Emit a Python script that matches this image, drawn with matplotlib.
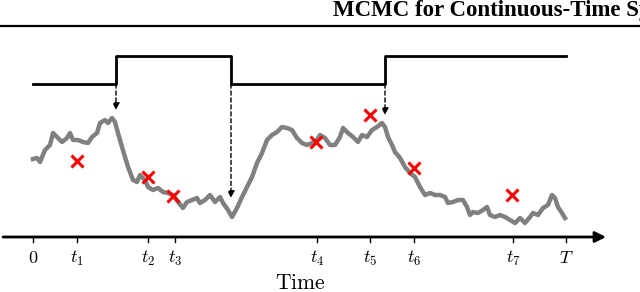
import matplotlib.pyplot as plt

plt.rcParams['mathtext.fontset'] = 'cm'

# sample path (time, value above the time axis)
path_t = [0, 4, 7, 12, 17, 20, 25, 29, 34, 37, 40, 45, 50, 55, 59, 64, 67, 72, 75, 79,
          82, 85, 89, 92, 95, 100, 104, 107, 112, 115, 120, 125, 130, 135, 140, 145, 150,
          154, 159, 164, 167, 172, 177, 182, 187, 190, 195, 199, 204, 209, 214, 219, 224,
          229, 234, 239, 244, 249, 254, 259, 264, 269, 274, 279, 284, 287, 292, 297, 302,
          307, 310, 315, 320, 325, 329, 334, 339, 344, 349, 352, 355, 359, 362, 367, 372,
          377, 382, 387, 392, 397, 402, 407, 412, 415, 420, 425, 430, 434, 437, 440, 445,
          450, 454, 457, 462, 467, 472, 477, 482, 487, 492, 497, 500, 505, 510, 515, 519,
          522, 525, 529, 532]
path_v = [78, 79, 75, 87, 92, 104, 99, 95, 99, 104, 97, 97, 95, 94, 100, 104, 114, 117, 114, 119,
          115, 104, 90, 80, 70, 57, 55, 62, 57, 50, 47, 49, 45, 44, 42, 35, 29,
          35, 37, 39, 34, 37, 42, 35, 40, 34, 27, 20, 29, 40, 50, 60, 74,
          84, 97, 102, 105, 110, 109, 107, 99, 94, 92, 94, 97, 102, 99, 92, 92,
          100, 109, 104, 100, 95, 102, 100, 107, 110, 114, 110, 100, 92, 85, 79, 70,
          64, 60, 50, 42, 44, 42, 42, 40, 34, 35, 37, 37, 30, 22, 25, 24,
          27, 30, 22, 20, 22, 20, 17, 14, 19, 14, 20, 24, 22, 29, 32, 42,
          39, 30, 24, 19]

# observations
obs_t = [44, 115, 140, 283, 337, 381, 479]
obs_v = [76, 60, 41, 95, 122, 69, 42]

tick_t = [0, 44, 115, 142, 284, 337, 381, 480, 533]
tick_labels = ['$0$', '$t_1$', '$t_2$', '$t_3$', '$t_4$', '$t_5$', '$t_6$', '$t_7$', '$T$']

# piecewise constant state trajectory
jump_t = [83, 198, 352]
state_t = [0, 83, 83, 198, 198, 352, 352, 533]
state_v = [153, 153, 181, 181, 153, 153, 181, 181]
arrow_tip_v = [127, 39, 122]

fig = plt.figure(figsize=(6.4, 2.92), dpi=100)
ax = fig.add_axes([0, 0, 1, 1])
ax.set_xlim(-33, 607)
ax.set_ylim(-55, 237)
ax.axis('off')

# header of the page
fig.text(0.52, 0.945, 'MCMC for Continuous-Time Systems', family='Liberation Serif',
         weight='bold', fontsize=16.5, ha='left', va='baseline')
fig.add_artist(plt.Line2D([0, 1], [0.912, 0.912], color='black', lw=1.6))

ax.plot(path_t, path_v, color='#808080', lw=3.2, solid_joinstyle='round')
ax.plot(obs_t, obs_v, 'x', color='red', ms=8, mew=2.2)
ax.plot(state_t, state_v, color='black', lw=2)

for t, v in zip(jump_t, arrow_tip_v):
    ax.annotate('', xy=(t, v), xytext=(t, 153),
                arrowprops=dict(arrowstyle='-|>', ls=(0, (3, 2)), lw=1, color='black',
                                mutation_scale=10, shrinkA=0, shrinkB=0))

# time axis
ax.annotate('', xy=(573, 0), xytext=(-30, 0),
            arrowprops=dict(arrowstyle='-|>', lw=2, color='black',
                            mutation_scale=16, shrinkA=0, shrinkB=0))
for t, lab in zip(tick_t, tick_labels):
    ax.plot([t, t], [0, -5], color='black', lw=1)
    ax.text(t, -21, lab, ha='center', va='center', fontsize=13)
ax.text(267, -46, r'$\mathrm{Time}$', ha='center', va='center', fontsize=15.5)

fig.savefig('out.png', dpi=100)
